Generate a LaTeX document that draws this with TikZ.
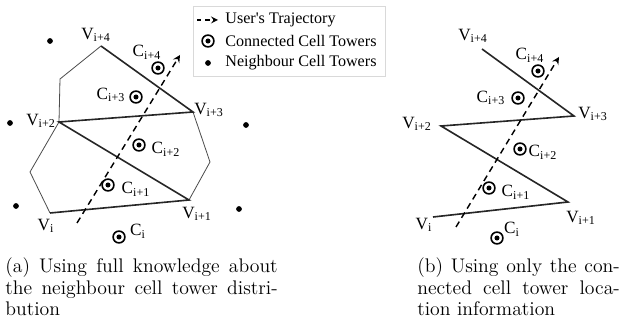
\documentclass[tikz,border=0pt]{standalone}
\usepackage{fontspec}
\newfontfamily\figfont{Liberation Serif}
\usetikzlibrary{arrows,positioning}

\begin{document}
\begin{tikzpicture}[x=0.558pt, y=-0.558pt,
    tower/.style={circle, draw, line width=0.9pt, minimum size=6.6pt, inner sep=0pt,
      path picture={\fill (path picture bounding box.center) circle (1.4pt);}},
    nbr/.style={circle, fill, inner sep=0pt, minimum size=3.2pt},
    lbl/.style={font=\figfont\fontsize{9.6}{10}\selectfont, inner sep=0pt},
    key/.style={font=\figfont\fontsize{9}{10}\selectfont, inner sep=0pt, anchor=west},
    zig/.style={line width=0.9pt, black!85},
    cell/.style={line width=0.45pt, black!70},
    traj/.style={-stealth, line width=0.8pt, dash pattern=on 3.5pt off 2.5pt},
    caption/.style={anchor=north west, align=justify, inner sep=0pt,
      font=\fontsize{11}{12.2}\selectfont}]
  \useasboundingbox (0,0) rectangle (625,332);

  % ---- (a) full knowledge ----
  % neighbour cell towers
  \node[nbr] (n1) at (50,41) {};
  \node[nbr] (n2) at (10,123) {};
  \node[nbr] (n3) at (246,125) {};
  \node[nbr] (n4) at (16,206) {};
  \node[nbr] (n5) at (239,209) {};
  % cell boundary corners
  \coordinate (av4) at (101,46);
  \coordinate (av3) at (193,112);
  \coordinate (av2) at (59,122);
  \coordinate (av1) at (189,200);
  \coordinate (av0) at (50,213);
  \coordinate (aw1) at (60,79);
  \coordinate (aw2) at (30,172);
  \coordinate (aw3) at (210,162);
  % outer cell edges
  \draw[cell] (av4) -- (aw1) -- (av2) -- (aw2) -- (av0);
  \draw[cell] (av3) -- (aw3) -- (av1);
  % shared edges
  \draw[zig] (av4) -- (av3) -- (av2) -- (av1) -- (av0);
  % trajectory
  \coordinate (at0) at (77,223);
  \coordinate (at1) at (180,55);
  \draw[traj] (at0) -- (at1);
  % connected cell towers
  \node[tower] (ac4) at (158,68) {};
  \node[tower] (ac3) at (136,97) {};
  \node[tower] (ac2) at (139,145) {};
  \node[tower] (ac1) at (108,185) {};
  \node[tower] (ac0) at (119,237) {};
  % labels
  \node[lbl] at (96,35) {V\textsubscript{i+4}};
  \node[lbl] at (209,110) {V\textsubscript{i+3}};
  \node[lbl] at (41,121) {V\textsubscript{i+2}};
  \node[lbl] at (197,214) {V\textsubscript{i+1}};
  \node[lbl] at (46,226) {V\textsubscript{i}};
  \node[lbl] at (147,52) {C\textsubscript{i+4}};
  \node[lbl] at (111,95) {C\textsubscript{i+3}};
  \node[lbl] at (166,149) {C\textsubscript{i+2}};
  \node[lbl] at (136,189) {C\textsubscript{i+1}};
  \node[lbl] at (138,231) {C\textsubscript{i}};

  % ---- legend ----
  \draw[black!15, fill=white] (193,6) rectangle (385,76);
  \coordinate (lg0) at (197,20);
  \coordinate (lg1) at (218,20);
  \draw[-stealth, line width=0.7pt, dash pattern=on 2.5pt off 2pt] (lg0) -- (lg1);
  \node[key] at (225,20) {User's Trajectory};
  \node[tower] (lgc) at (208,41) {};
  \node[key] at (225,41) {Connected Cell Towers};
  \node[nbr] (lgn) at (208,63) {};
  \node[key] at (225,63) {Neighbour Cell Towers};

  % ---- (b) connected towers only ----
  \coordinate (bv4) at (482,49);
  \coordinate (bv3) at (574,116);
  \coordinate (bv2) at (441,126);
  \coordinate (bv1) at (568,202);
  \coordinate (bv0) at (433,217);
  \draw[zig] (bv4) -- (bv3) -- (bv2) -- (bv1) -- (bv0);
  \coordinate (bt0) at (456,227);
  \coordinate (bt1) at (559,57);
  \draw[traj] (bt0) -- (bt1);
  \node[tower] (bc4) at (538,71) {};
  \node[tower] (bc3) at (518,98) {};
  \node[tower] (bc2) at (520,149) {};
  \node[tower] (bc1) at (489,188) {};
  \node[tower] (bc0) at (497,238) {};
  \node[lbl] at (473,36) {V\textsubscript{i+4}};
  \node[lbl] at (593,114) {V\textsubscript{i+3}};
  \node[lbl] at (417,124) {V\textsubscript{i+2}};
  \node[lbl] at (581,218) {V\textsubscript{i+1}};
  \node[lbl] at (424,225) {V\textsubscript{i}};
  \node[lbl] at (530,55) {C\textsubscript{i+4}};
  \node[lbl] at (491,98) {C\textsubscript{i+3}};
  \node[lbl] at (543,152) {C\textsubscript{i+2}};
  \node[lbl] at (516,192) {C\textsubscript{i+1}};
  \node[lbl] at (512,229) {C\textsubscript{i}};

  % ---- captions ----
  \node[caption, text width=152pt] (capa) at (5,257)
    {(a) Using full knowledge about the neighbour cell tower distri\-bution};
  \node[caption, text width=113pt] (capb) at (417,257)
    {(b) Using only the con\-nected cell tower loca\-tion information};
\end{tikzpicture}
\end{document}
